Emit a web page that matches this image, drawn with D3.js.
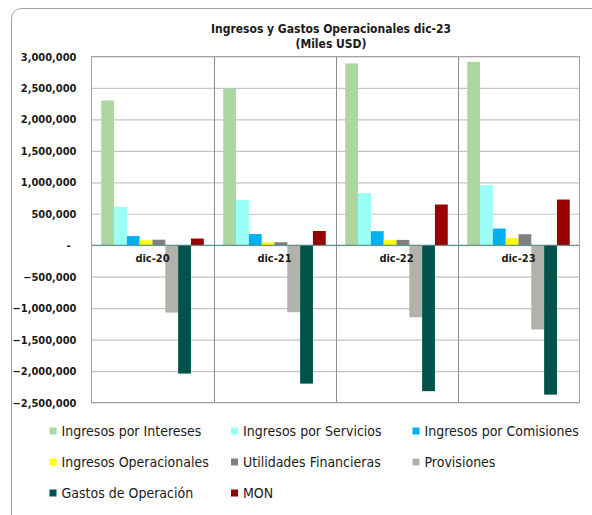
<!DOCTYPE html>
<html>
<head>
<meta charset="utf-8">
<script src="https://cdn.jsdelivr.net/npm/d3@7"></script>
<style>
  body { margin: 0; background: #fff; }
  svg { display: block; font-family: "DejaVu Sans Condensed", "Liberation Sans", sans-serif; }
</style>
</head>
<body>
<div id="container"></div>
<script>
const categories = ['dic-20', 'dic-21', 'dic-22', 'dic-23'];

const seriesNames = [
    'Ingresos por Intereses', 'Ingresos por Servicios', 'Ingresos por Comisiones',
    'Ingresos Operacionales', 'Utilidades Financieras', 'Provisiones',
    'Gastos de Operación', 'MON'
];

// miles USD
const interesesValues = [2300000, 2490000, 2890000, 2915000];
const serviciosValues = [610000, 720000, 830000, 955000];
const comisionesValues = [145000, 177000, 223000, 265000];
const operacionalesValues = [80000, 45000, 80000, 115000];
const utilidadesValues = [88000, 48000, 85000, 175000];
const provisionesValues = [-1070000, -1065000, -1145000, -1340000];
const gastosValues = [-2040000, -2200000, -2320000, -2375000];
const monValues = [106000, 226000, 647000, 726000];

const yTicks = [-2500000, -2000000, -1500000, -1000000, -500000, 0,
    500000, 1000000, 1500000, 2000000, 2500000, 3000000];

const colors = ['#acd7a3', '#99fff7', '#00b0f0', '#ffff00', '#808080', '#b2b2aa', '#00524a', '#990000'];

const seriesValues = [interesesValues, serviciosValues, comisionesValues, operacionalesValues,
    utilidadesValues, provisionesValues, gastosValues, monValues];

const width = 592, height = 515;
const plot = { left: 91.5, right: 579.5, top: 56.5, bottom: 402.5 };

const svg = d3.select('#container').append('svg')
    .attr('width', width)
    .attr('height', height);

// outer frame (runs off the right and bottom of the picture)
svg.append('rect')
    .attr('x', 11.5).attr('y', 8.5)
    .attr('width', 620).attr('height', 540)
    .attr('rx', 10)
    .attr('fill', '#fff')
    .attr('stroke', '#a0a0a0')
    .attr('stroke-width', 1);

const y = d3.scaleLinear()
    .domain([-2500000, 3000000])
    .range([plot.bottom, plot.top]);

const x0 = d3.scaleBand()
    .domain(categories)
    .range([plot.left, plot.right])
    .padding(0);

const x1 = d3.scaleBand()
    .domain(d3.range(seriesNames.length))
    .range([0, x0.bandwidth()])
    .paddingInner(0)
    .paddingOuter(0.76);

// horizontal gridlines + tick labels
const yAxis = svg.append('g')
    .attr('transform', `translate(${plot.left},0)`)
    .call(d3.axisLeft(y)
        .tickValues(yTicks)
        .tickSize(-(plot.right - plot.left))
        .tickPadding(15)
        .tickFormat((d) => d === 0 ? '-' : d3.format(',')(d)));

yAxis.select('.domain').remove();
yAxis.selectAll('.tick line')
    .attr('stroke', '#c4c4c4')
    .attr('stroke-width', 1.2);
yAxis.selectAll('.tick text')
    .attr('fill', '#1a1a1a')
    .attr('font-size', '11px')
    .attr('font-weight', 'bold')
    .attr('font-family', '"DejaVu Sans Condensed", "Liberation Sans", sans-serif')
    .attr('dx', (d) => d === 0 ? -6 : 0);

// vertical category separators
svg.append('g')
    .selectAll('line')
    .data(categories.slice(1))
    .join('line')
    .attr('x1', (d) => Math.round(x0(d)) + 0.5)
    .attr('x2', (d) => Math.round(x0(d)) + 0.5)
    .attr('y1', plot.top)
    .attr('y2', plot.bottom)
    .attr('stroke', '#8e8e8e')
    .attr('stroke-width', 1);

// plot frame
svg.append('rect')
    .attr('x', plot.left).attr('y', plot.top)
    .attr('width', plot.right - plot.left)
    .attr('height', plot.bottom - plot.top)
    .attr('fill', 'none')
    .attr('stroke', '#a3a3a3')
    .attr('stroke-width', 1);

// bars
const groups = svg.append('g').attr('class', 'bars')
    .selectAll('g')
    .data(categories)
    .join('g')
    .attr('transform', (d) => `translate(${x0(d)},0)`);

groups.selectAll('rect')
    .data((d, ci) => seriesValues.map((vals, si) => ({ si: si, value: vals[ci] })))
    .join('rect')
    .attr('x', (d) => x1(d.si))
    .attr('width', x1.bandwidth())
    .attr('y', (d) => y(Math.max(0, d.value)))
    .attr('height', (d) => Math.abs(y(d.value) - y(0)))
    .attr('fill', (d) => colors[d.si]);

// zero line
svg.append('line')
    .attr('x1', plot.left).attr('x2', plot.right)
    .attr('y1', y(0)).attr('y2', y(0))
    .attr('stroke', '#4f8585')
    .attr('stroke-width', 1.2);

// category labels
svg.append('g')
    .selectAll('text')
    .data(categories)
    .join('text')
    .attr('x', (d) => x0(d) + x0.bandwidth() / 2)
    .attr('y', y(0) + 17)
    .attr('text-anchor', 'middle')
    .attr('font-size', '11px')
    .attr('font-weight', 'bold')
    .attr('fill', '#1a1a1a')
    .text((d) => d);

// title
const title = svg.append('text')
    .attr('x', 331)
    .attr('text-anchor', 'middle')
    .attr('font-size', '12px')
    .attr('font-weight', 'bold')
    .attr('fill', '#1a1a1a');
title.append('tspan').attr('x', 331).attr('y', 33).text('Ingresos y Gastos Operacionales dic-23');
title.append('tspan').attr('x', 331).attr('y', 48).text('(Miles USD)');

// legend
const legendCols = [49.5, 231, 412.5];
const legendRows = [431, 462, 493];

const legend = svg.append('g').attr('class', 'legend')
    .selectAll('g')
    .data(seriesNames)
    .join('g')
    .attr('transform', (d, i) => `translate(${legendCols[i % 3]},${legendRows[Math.floor(i / 3)]})`);

legend.append('rect')
    .attr('x', 0).attr('y', -3.5)
    .attr('width', 7).attr('height', 7)
    .attr('fill', (d, i) => colors[i]);

legend.append('text')
    .attr('x', 12)
    .attr('dy', '0.36em')
    .attr('font-size', '14px')
    .attr('fill', '#1a1a1a')
    .text((d) => d);
</script>
</body>
</html>
